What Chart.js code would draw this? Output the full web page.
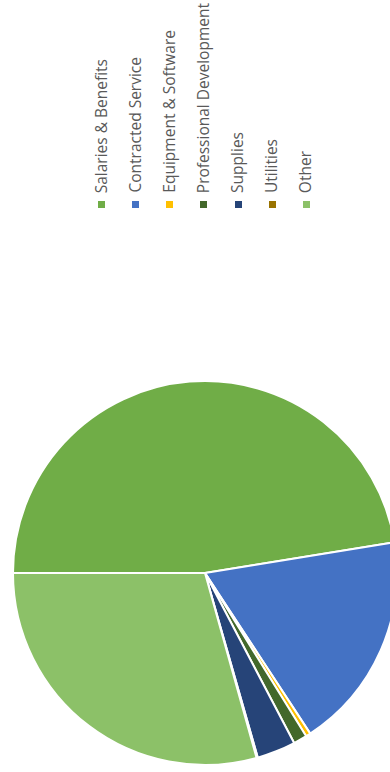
<!DOCTYPE html>
<html>
<head>
<meta charset="utf-8">
<script src="https://cdn.jsdelivr.net/npm/chart.js@4"></script>
<style>
  html, body { margin: 0; padding: 0; background: #fff; overflow: hidden; width: 390px; height: 772px; }
  #legend { position: absolute; left: 84.6px; top: 0; display: flex; }
  .item { width: 34.1px; height: 207.5px; display: flex; flex-direction: column; align-items: center; justify-content: flex-end; }
  .item .t { writing-mode: vertical-rl; transform: rotate(180deg); font: 15.5px "Open Sans"; color: #595959; white-space: nowrap; line-height: 1; }
  .item .b { width: 7px; height: 7px; margin-top: 7.5px; }
  #wrap { position: absolute; left: 12px; top: 380px; width: 386px; height: 386px; }
</style>
</head>
<body>
<div id="legend"></div>
<div id="wrap"><canvas id="pieChart"></canvas></div>
<script>
// budget categories and their share (%)
var labels = ["Salaries & Benefits", "Contracted Service", "Equipment & Software", "Professional Development", "Supplies", "Utilities", "Other"];
var values = [47.4, 18.3, 0.4, 1.15, 3.25, 0.1, 29.3];
var colors = ["#70AD47", "#4472C4", "#FFC000", "#43682B", "#264478", "#997300", "#8CC168"];

var ctx = document.getElementById("pieChart").getContext("2d");
var chart = new Chart(ctx, {
    type: 'pie',
    data: {
        labels: labels,
        datasets: [{
            data: values,
            backgroundColor: colors,
            borderColor: "#ffffff",
            borderWidth: 2
        }]
    },
    options: {
        responsive: true,
        maintainAspectRatio: false,
        animation: false,
        rotation: -90,
        layout: { padding: 0 },
        plugins: {
            legend: { display: false },
            tooltip: { enabled: false }
        }
    }
});

// legend built from the chart's own labels
var items = chart.options.plugins.legend.labels.generateLabels(chart);
var legend = document.getElementById("legend");
items.forEach(function(it) {
    var d = document.createElement("div");
    d.className = "item";
    d.innerHTML = '<span class="t"></span><span class="b"></span>';
    d.querySelector(".t").textContent = it.text;
    d.querySelector(".b").style.background = it.fillStyle;
    legend.appendChild(d);
});
</script>
</body>
</html>
